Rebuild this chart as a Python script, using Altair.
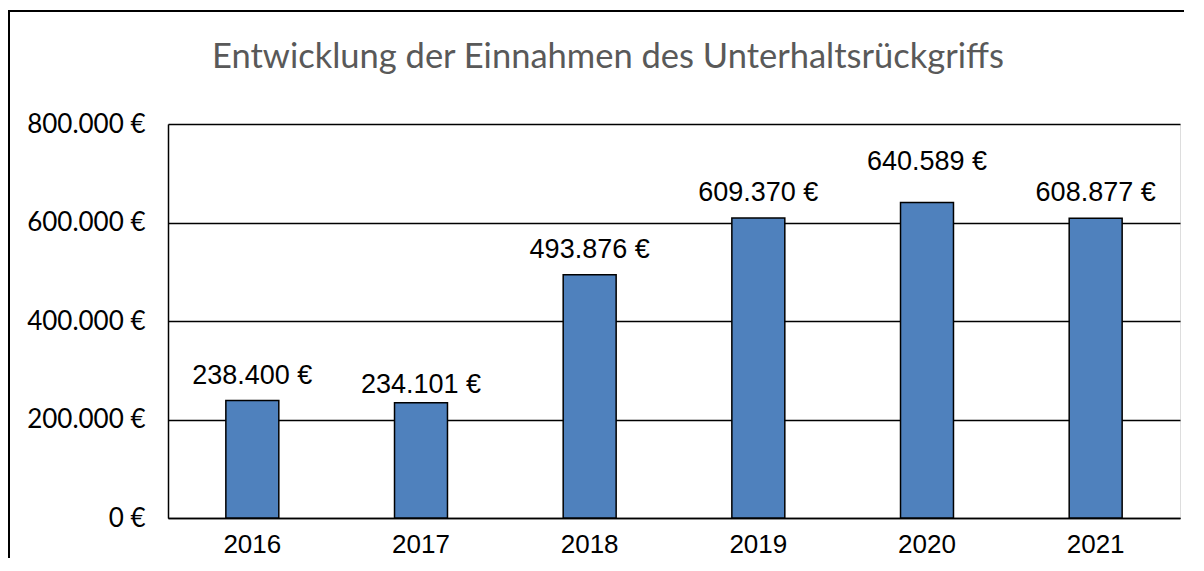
import altair as alt
import pandas as pd

years = ["2016", "2017", "2018", "2019", "2020", "2021"]
values = [238400, 234101, 493876, 609370, 640589, 608877]
labels = ["238.400 €", "234.101 €", "493.876 €", "609.370 €", "640.589 €", "608.877 €"]
y_ticks = [0, 200000, 400000, 600000, 800000]
title_text = "Entwicklung der Einnahmen des Unterhaltsrückgriffs"

df = pd.DataFrame({"year": years, "value": values, "label": labels})

W, H = 1012, 394
PAD = {"left": 160, "top": 116, "right": 4, "bottom": 40}

x = alt.X("year:N", sort=years, title=None,
          scale=alt.Scale(paddingInner=0.686, paddingOuter=0.343),
          axis=alt.Axis(labelAngle=0, labelFont="Liberation Sans", labelFontSize=26,
                        labelColor="black", labelBaseline="alphabetic", labelPadding=34,
                        ticks=False, domain=True, domainColor="black", domainWidth=1.5,
                        grid=False))
y = alt.Y("value:Q", title=None,
          scale=alt.Scale(domain=[0, 800000], nice=False),
          axis=alt.Axis(values=y_ticks,
                        labelExpr="datum.value == 0 ? '0 €' : replace(format(datum.value, ',.0f'), ',', '.') + ' €'",
                        labelFont="Lato", labelFontSize=26, labelColor="black",
                        labelPadding=23, ticks=False, domain=True, domainColor="black",
                        domainWidth=1.5, grid=True, gridColor="black", gridWidth=1.5,
                        gridOpacity=1))

base = alt.Chart(df)

bars = base.mark_bar(color="#4F81BD", stroke="black", strokeWidth=1.5).encode(x=x, y=y)

def lbl(flt, dy):
    return base.transform_filter(flt).mark_text(
        font="Liberation Sans", fontSize=27, color="black",
        baseline="alphabetic", align="center", dy=dy
    ).encode(x=alt.X("year:N", sort=years), y="value:Q", text="label:N")

lab_main = lbl("datum.year != '2017' && datum.year != '2020'", -17)
lab_2017 = lbl("datum.year == '2017'", -10)
lab_2020 = lbl("datum.year == '2020'", -33)

title = alt.Chart(pd.DataFrame({"t": [title_text]})).mark_text(
    font="Lato", fontSize=34.5, color="#595959", baseline="alphabetic", align="center"
).encode(x=alt.value(608 - 168), y=alt.value(68 - 124), text="t:N")

one = pd.DataFrame({"a": [0]})
frame_left = alt.Chart(one).mark_rule(color="black", strokeWidth=2).encode(
    x=alt.value(9 - 168), y=alt.value(10 - 124), y2=alt.value(H + PAD["bottom"]))
frame_top = alt.Chart(one).mark_rule(color="black", strokeWidth=2).encode(
    x=alt.value(8 - 168), x2=alt.value(W + PAD["right"]), y=alt.value(11 - 124))

chart = alt.layer(frame_left, frame_top, bars, lab_main, lab_2017, lab_2020, title).properties(
    width=W, height=H,
    autosize=alt.AutoSizeParams(type="none"),
    padding=PAD,
).configure_view(stroke=None).configure(background="white")

chart.save("out.html", embed_options={"renderer": "svg", "actions": False})
